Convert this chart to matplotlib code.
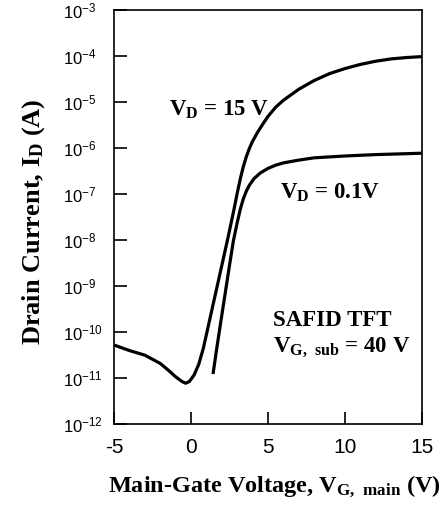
import numpy as np
import matplotlib
matplotlib.use("Agg")
import matplotlib.pyplot as plt
from matplotlib.ticker import LogLocator, LogFormatterSciNotation, NullLocator

plt.rcParams['font.family'] = ['Liberation Sans', 'DejaVu Sans']
plt.rcParams['mathtext.default'] = 'regular'
plt.rcParams['axes.unicode_minus'] = False

# V_D = 15 V curve (gate voltage, log10 of drain current)
vg_15 = [-5.0, -4.0, -3.0, -2.0, -1.5, -1.0, -0.6, -0.35, -0.1, 0.2, 0.5, 0.8,
         1.2, 1.6, 2.0, 2.4, 2.8, 3.0, 3.2, 3.4, 3.6, 3.8, 4.0, 4.3, 4.6, 5.0,
         5.5, 6.0, 7.0, 8.0, 9.0, 10.0, 11.0, 12.0, 13.0, 14.0, 15.0]
logid_15 = [-10.28, -10.40, -10.50, -10.68, -10.82, -10.97, -11.07, -11.11,
            -11.07, -10.93, -10.70, -10.35, -9.75, -9.15, -8.55, -7.95, -7.32,
            -6.98, -6.67, -6.40, -6.18, -6.00, -5.85, -5.67, -5.51, -5.31,
            -5.11, -4.96, -4.72, -4.53, -4.38, -4.27, -4.18, -4.11, -4.06,
            -4.03, -4.01]

# V_D = 0.1 V curve
vg_01 = [1.43, 1.65, 1.9, 2.2, 2.5, 2.75, 3.0, 3.2, 3.4, 3.6, 3.8, 4.1, 4.5,
         5.0, 5.5, 6.0, 7.0, 8.0, 10.0, 12.0, 15.0]
logid_01 = [-10.91, -10.4, -9.85, -9.2, -8.55, -8.02, -7.62, -7.33, -7.10,
            -6.93, -6.80, -6.66, -6.54, -6.44, -6.37, -6.32, -6.26, -6.21,
            -6.17, -6.14, -6.11]

xticks = [-5, 0, 5, 10, 15]

fig = plt.figure(figsize=(4.44, 5.08), dpi=100)
ax = fig.add_axes([0.257, 0.165, 0.693, 0.815])

ax.plot(vg_15, 10.0 ** np.array(logid_15), color='black', lw=2.3,
        solid_joinstyle='round', solid_capstyle='butt')
ax.plot(vg_01, 10.0 ** np.array(logid_01), color='black', lw=2.3,
        solid_joinstyle='round', solid_capstyle='butt')

ax.set_yscale('log')
ax.set_xlim(-5, 15)
ax.set_ylim(1e-12, 1e-3)
ax.set_xticks(xticks)
ax.set_xticklabels([str(t) for t in xticks])
ax.yaxis.set_major_locator(LogLocator(base=10, numticks=20))
ax.yaxis.set_major_formatter(LogFormatterSciNotation())
ax.yaxis.set_minor_locator(NullLocator())
ax.tick_params(direction='in', length=9, width=1.2, top=False, right=False)
ax.tick_params(axis='x', pad=10, labelsize=15)
ax.tick_params(axis='y', pad=36.5, labelsize=12)
for lab in ax.get_yticklabels():
    lab.set_horizontalalignment('left')
for s in ax.spines.values():
    s.set_linewidth(1.2)

serif = dict(family='Liberation Serif', weight='bold')
ax.set_xlabel('Main-Gate Voltage, V$_{G,\\ main}$ (V)', fontsize=17.5,
              va='baseline', **serif)
ax.xaxis.set_label_coords(0.52, -0.162)
ax.set_ylabel('Drain Current, I$_D$ (A)', fontsize=19, va='center', **serif)
ax.yaxis.set_label_coords(-0.262, 0.49)

ax.text(1.82, 10 ** -5.30, 'V$_D$ = 15 V', ha='center', va='baseline',
        fontsize=16.5, **serif)
ax.text(9.03, 10 ** -7.09, 'V$_D$ = 0.1V', ha='center', va='baseline',
        fontsize=16.5, **serif)
ax.text(5.32, 10 ** -9.87, 'SAFID TFT', ha='left', va='baseline',
        fontsize=16.5, **serif)
ax.text(5.32, 10 ** -10.43, 'V$_{G,\\ sub}$ = 40 V', ha='left', va='baseline',
        fontsize=16.5, **serif)

fig.savefig('out.png', dpi=100)
